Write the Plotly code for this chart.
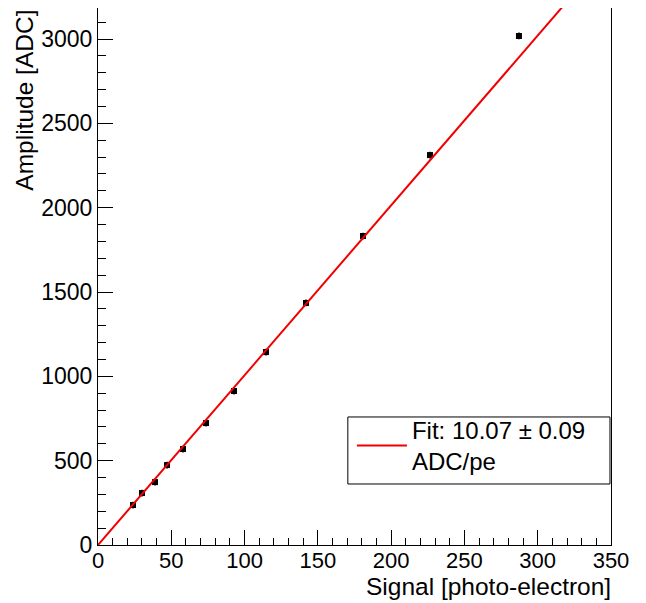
import plotly.graph_objects as go

# Data
signal_pe = [23.9, 30.0, 38.9, 47.1, 58.0, 73.7, 92.8, 114.6, 141.9, 180.8, 226.5, 287.2]
amplitude_adc = [237, 308, 373, 474, 569, 723, 913, 1144, 1435, 1832, 2312, 3018]
err_pe = [2.0] * 12
err_adc = [20] * 12

fit_slope = 10.07
fit_x = [0, 350]
fit_y = [fit_slope * v for v in fit_x]

x_range = [0, 350]
y_range = [0, 3184]

FONT = "Liberation Sans, Arial, Helvetica, sans-serif"

fig = go.Figure()
fig.add_trace(go.Scatter(
    x=signal_pe, y=amplitude_adc, mode="markers",
    marker=dict(symbol="square", size=6, color="black"),
    error_x=dict(type="data", array=err_pe, color="black", thickness=1.5, width=0),
    error_y=dict(type="data", array=err_adc, color="black", thickness=1.5, width=0),
    showlegend=False,
))
fig.add_trace(go.Scatter(
    x=fit_x, y=fit_y, mode="lines",
    line=dict(color="#f00000", width=2),
    name="Fit: 10.07 ± 0.09<br>ADC/pe",
    showlegend=True,
))

axis_common = dict(
    showline=True, linecolor="black", linewidth=1, mirror=True,
    ticks="inside", ticklen=15, tickwidth=1, tickcolor="black",
    showgrid=False, zeroline=False,
)

fig.update_xaxes(range=x_range, dtick=50, tick0=0, ticklabelstandoff=-4,
                 tickfont=dict(family=FONT, size=22, color="black"),
                 minor=dict(ticks="inside", ticklen=7, dtick=10, tickcolor="black", showgrid=False),
                 **axis_common)
fig.update_yaxes(range=y_range, dtick=500, tick0=0,
                 tickfont=dict(family=FONT, size=23, color="black"),
                 minor=dict(ticks="inside", ticklen=8, dtick=100, tickcolor="black", showgrid=False),
                 **axis_common)

fig.update_layout(
    width=638, height=595,
    margin=dict(l=90, r=35, t=0, b=58, pad=0),
    paper_bgcolor="white", plot_bgcolor="white",
    font=dict(family=FONT, size=24, color="black"),
    legend=dict(x=0.495, y=0.2555, xanchor="left", yanchor="top",
                bgcolor="rgba(0,0,0,0)", borderwidth=0,
                itemwidth=50, font=dict(family=FONT, size=24, color="black")),
    shapes=[dict(type="rect", xref="paper", yref="paper",
                 x0=0.487, x1=0.998, y0=0.1136, y1=0.2384,
                 line=dict(color="black", width=1), fillcolor="white", layer="below")],
    annotations=[
        dict(text="Signal [photo-electron]", xref="paper", yref="paper",
             x=1.003, y=-0.078, xanchor="right", yanchor="middle", showarrow=False,
             font=dict(family=FONT, size=24.5, color="black")),
        dict(text="Amplitude [ADC]", xref="paper", yref="paper",
             x=-0.144, y=1.0, xanchor="center", yanchor="top", textangle=-90, showarrow=False,
             font=dict(family=FONT, size=24.5, color="black")),
    ],
)

fig.write_html("out.html")
